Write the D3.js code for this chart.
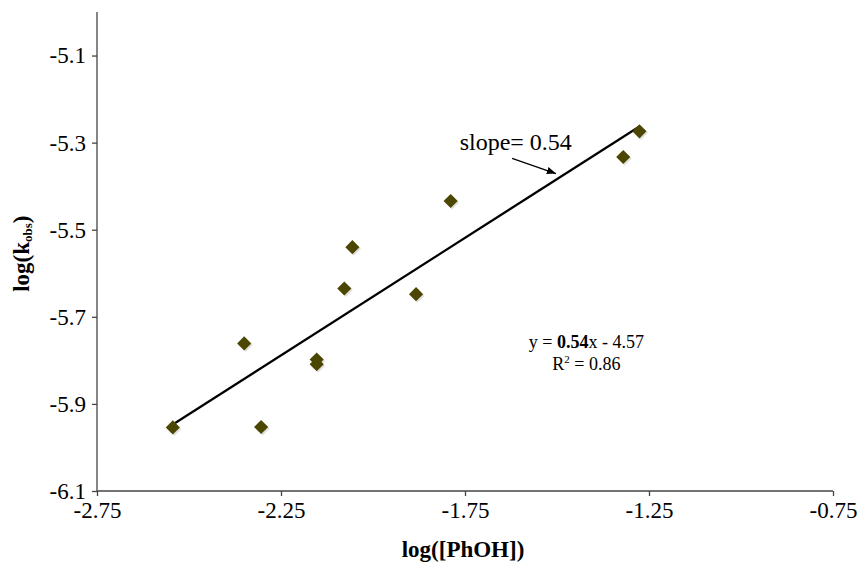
<!DOCTYPE html>
<html>
<head>
<meta charset="utf-8">
<script src="https://cdn.jsdelivr.net/npm/d3@7"></script>
<style>
  body { margin: 0; background: #fff; }
  svg text { font-family: "Liberation Serif", "Times New Roman", serif; fill: #000; }
  .axis path, .axis line { stroke: #444; stroke-width: 1.3; }
  .axis text { font-size: 23px; }
  .title { font-size: 23px; font-weight: bold; }
</style>
</head>
<body>
<div id="chart"></div>
<script>
// data
const logPhOH = [-2.544, -2.350, -2.304, -2.153, -2.153, -2.078, -2.056, -1.883, -1.789, -1.320, -1.276];
const logKobs = [-5.954, -5.761, -5.953, -5.798, -5.809, -5.635, -5.540, -5.648, -5.434, -5.333, -5.274];
const xTicks = [-2.75, -2.25, -1.75, -1.25, -0.75];
const yTicks = [-6.1, -5.9, -5.7, -5.5, -5.3, -5.1];
const fitLabel = {slope: '0.54', intercept: '4.57', r2: '0.86'};

const width = 859, height = 565;
const margin = {top: 12, right: 26, bottom: 74, left: 97};   // plot box: x 97..833, y 12..491

const svg = d3.select('#chart').append('svg')
    .attr('width', width)
    .attr('height', height);

const x = d3.scaleLinear([-2.75, -0.75], [margin.left, width - margin.right]);
const y = d3.scaleLinear([-6.1, -5.0], [height - margin.bottom, margin.top]);

// plain hyphen instead of d3's unicode minus
const fmt = p => d => d3.format(p)(d).replace('\u2212', '-');

// axes
svg.append('g')
    .attr('class', 'axis')
    .attr('transform', `translate(0,${y(-6.1)})`)
    .call(d3.axisBottom(x).tickValues(xTicks).tickFormat(fmt('.2f')).tickSizeOuter(0).tickSize(5).tickPadding(6));

svg.append('g')
    .attr('class', 'axis')
    .attr('transform', `translate(${x(-2.75)},0)`)
    .call(d3.axisLeft(y).tickValues(yTicks).tickFormat(fmt('.1f')).tickSizeOuter(0).tickSize(5).tickPadding(6));

// draw the axis lines over the full plot box
svg.selectAll('.axis .domain').remove();
svg.append('line')
    .attr('x1', x(-2.75)).attr('x2', x(-2.75))
    .attr('y1', y(-5.0)).attr('y2', y(-6.1))
    .attr('stroke', '#444').attr('stroke-width', 1.3);
svg.append('line')
    .attr('x1', x(-2.75)).attr('x2', x(-0.75))
    .attr('y1', y(-6.1)).attr('y2', y(-6.1))
    .attr('stroke', '#444').attr('stroke-width', 1.3);

// axis titles
svg.append('text')
    .attr('class', 'title')
    .attr('x', x(-1.75) - 2)
    .attr('y', 557)
    .attr('text-anchor', 'middle')
    .text('log([PhOH])');

const yTitle = svg.append('text')
    .attr('class', 'title')
    .attr('transform', `translate(29,${y(-5.555)})rotate(-90)`)
    .attr('text-anchor', 'middle');
yTitle.append('tspan').text('log(k');
yTitle.append('tspan').attr('font-size', '13px').attr('dy', 3).text('obs');
yTitle.append('tspan').attr('dy', -3).text(')');

// least squares trend line
const points = logPhOH.map((d, i) => [d, logKobs[i]]);
const mx = d3.mean(logPhOH), my = d3.mean(logKobs);
const b = d3.sum(points, p => (p[0] - mx) * (p[1] - my)) / d3.sum(points, p => (p[0] - mx) ** 2);
const a = my - b * mx;
const [x0, x1] = d3.extent(logPhOH);

svg.append('line')
    .attr('x1', x(x0)).attr('y1', y(a + b * x0))
    .attr('x2', x(x1)).attr('y2', y(a + b * x1))
    .attr('stroke', '#000')
    .attr('stroke-width', 2.2);

// markers (diamonds with a soft shadow)
const diamond = d3.symbol(d3.symbolSquare, 100);
svg.append('g').selectAll('path')
    .data(points)
    .join('path')
    .attr('d', diamond)
    .attr('transform', d => `translate(${x(d[0]) + 1.5},${y(d[1]) + 1.5})rotate(45)`)
    .attr('fill', '#ccc')
    .attr('opacity', 0.6);
svg.append('g').selectAll('path')
    .data(points)
    .join('path')
    .attr('d', diamond)
    .attr('transform', d => `translate(${x(d[0])},${y(d[1])})rotate(45)`)
    .attr('fill', '#4b4600');

// slope annotation with arrow
svg.append('defs').append('marker')
    .attr('id', 'arrow')
    .attr('viewBox', '0 0 10 10')
    .attr('refX', 10).attr('refY', 5)
    .attr('markerWidth', 7).attr('markerHeight', 7)
    .attr('orient', 'auto')
    .append('path')
    .attr('d', 'M0,1L10,5L0,9Z')
    .attr('fill', '#000');

svg.append('text')
    .attr('x', x(-1.612))
    .attr('y', y(-5.318))
    .attr('text-anchor', 'middle')
    .attr('font-size', '24px')
    .text(`slope= ${fitLabel.slope}`);

svg.append('line')
    .attr('x1', x(-1.622)).attr('y1', y(-5.336))
    .attr('x2', x(-1.503)).attr('y2', y(-5.371))
    .attr('stroke', '#000')
    .attr('stroke-width', 1.3)
    .attr('marker-end', 'url(#arrow)');

// equation
const eq = svg.append('text')
    .attr('x', x(-1.42))
    .attr('y', y(-5.771))
    .attr('text-anchor', 'middle')
    .attr('font-size', '18px');
eq.append('tspan').text('y = ');
eq.append('tspan').attr('font-weight', 'bold').text(fitLabel.slope);
eq.append('tspan').text(`x - ${fitLabel.intercept}`);

const r2 = svg.append('text')
    .attr('x', x(-1.42))
    .attr('y', y(-5.822))
    .attr('text-anchor', 'middle')
    .attr('font-size', '18px');
r2.append('tspan').text('R');
r2.append('tspan').attr('font-size', '11px').attr('dy', -7).text('2');
r2.append('tspan').attr('dy', 7).text(` = ${fitLabel.r2}`);
</script>
</body>
</html>
